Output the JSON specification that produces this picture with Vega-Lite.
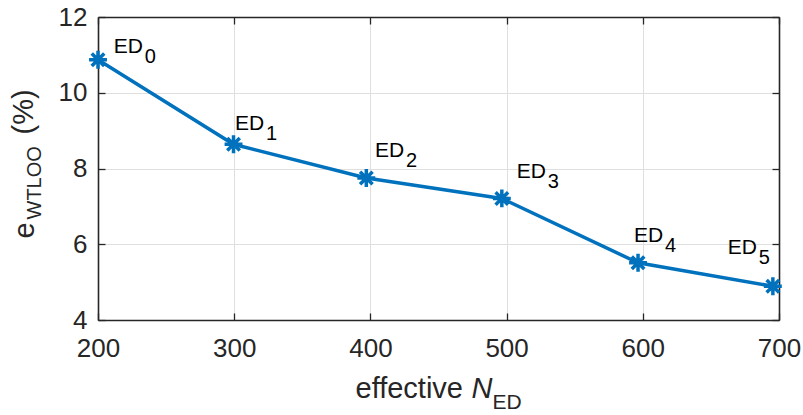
{
  "$schema": "https://vega.github.io/schema/vega-lite/v6.json",
  "width": 681,
  "height": 303,
  "autosize": {"type": "none"},
  "padding": {"left": 98, "top": 17, "right": 24, "bottom": 95},
  "background": "white",
  "config": {
    "view": {"stroke": null},
    "axis": {
      "labelFont": "Liberation Sans",
      "titleFont": "Liberation Sans",
      "labelColor": "#262626",
      "titleColor": "#262626",
      "domainColor": "#262626",
      "tickColor": "#262626",
      "domainWidth": 1.6,
      "tickWidth": 1.3,
      "titleFontWeight": "normal",
      "labelFontSize": 26,
      "titleFontSize": 29,
      "labelFlush": false,
      "labelOverlap": false
    }
  },
  "data": {
    "values": [
      {"n": 200, "e": 10.87, "lx": 211.5, "ly": 11.05, "name": "ED", "sub": "0"},
      {"n": 299.5, "e": 8.64, "lx": 300.6, "ly": 9.01, "name": "ED", "sub": "1"},
      {"n": 397, "e": 7.75, "lx": 403.4, "ly": 8.3, "name": "ED", "sub": "2"},
      {"n": 496.5, "e": 7.21, "lx": 507.4, "ly": 7.74, "name": "ED", "sub": "3"},
      {"n": 596.5, "e": 5.51, "lx": 593.5, "ly": 6.07, "name": "ED", "sub": "4"},
      {"n": 695.5, "e": 4.89, "lx": 662.3, "ly": 5.73, "name": "ED", "sub": "5"}
    ]
  },
  "resolve": {"axis": {"x": "independent", "y": "independent"}},
  "layer": [
    {
      "mark": {"type": "line", "color": "#0072BD", "strokeWidth": 3.5},
      "encoding": {
        "x": {
          "field": "n", "type": "quantitative",
          "scale": {"domain": [200, 700], "nice": false, "zero": false},
          "axis": {
            "orient": "bottom",
            "values": [200, 300, 400, 500, 600, 700],
            "grid": true, "gridColor": "#dfdfdf", "gridWidth": 1,
            "tickSize": -7, "labelPadding": 22,
            "title": "effective",
            "titleX": 257, "titleY": 77, "titleAlign": "left", "titleBaseline": "alphabetic", "titleAnchor": null
          }
        },
        "y": {
          "field": "e", "type": "quantitative",
          "scale": {"domain": [4, 12], "nice": false, "zero": false},
          "axis": {
            "orient": "left",
            "values": [4, 6, 8, 10, 12],
            "grid": true, "gridColor": "#dfdfdf", "gridWidth": 1,
            "tickSize": -7, "labelPadding": 18,
            "title": "e",
            "titleX": -65, "titleY": 221, "titleAlign": "left", "titleBaseline": "alphabetic", "titleAngle": 270, "titleAnchor": null
          }
        }
      }
    },
    {
      "mark": {
        "type": "point",
        "shape": "M-1,0L1,0M0,-1L0,1M-0.7,-0.7L0.7,0.7M-0.7,0.7L0.7,-0.7",
        "filled": false, "color": "#0072BD", "strokeWidth": 3.5, "size": 320, "opacity": 1
      },
      "encoding": {
        "x": {
          "field": "n", "type": "quantitative",
          "axis": {
            "orient": "bottom", "labels": false, "ticks": false, "domain": false, "grid": false,
            "title": "N", "titleFontStyle": "italic",
            "titleX": 373, "titleY": 77, "titleAlign": "left", "titleBaseline": "alphabetic", "titleAnchor": null
          }
        },
        "y": {
          "field": "e", "type": "quantitative",
          "axis": {
            "orient": "left", "labels": false, "ticks": false, "domain": false, "grid": false,
            "title": "WTLOO", "titleFontSize": 20,
            "titleX": -58, "titleY": 202, "titleAlign": "left", "titleBaseline": "alphabetic", "titleAngle": 270, "titleAnchor": null
          }
        }
      }
    },
    {
      "mark": {"type": "text", "font": "Liberation Sans", "fontSize": 21, "color": "#000000", "align": "left", "baseline": "alphabetic"},
      "encoding": {
        "x": {
          "field": "lx", "type": "quantitative",
          "axis": {
            "orient": "top", "labels": false, "grid": false, "tickSize": -7,
            "values": [200, 300, 400, 500, 600, 700], "title": null
          }
        },
        "y": {
          "field": "ly", "type": "quantitative",
          "axis": {
            "orient": "right", "labels": false, "grid": false, "tickSize": -7,
            "values": [4, 6, 8, 10, 12], "title": null
          }
        },
        "text": {"field": "name"}
      }
    },
    {
      "mark": {"type": "text", "font": "Liberation Sans", "fontSize": 20, "color": "#000000", "align": "left", "baseline": "alphabetic", "dx": 31, "dy": 10},
      "encoding": {
        "x": {
          "field": "lx", "type": "quantitative",
          "axis": {
            "orient": "bottom", "labels": false, "ticks": false, "domain": false, "grid": false,
            "title": "ED", "titleFontSize": 21,
            "titleX": 394, "titleY": 88, "titleAlign": "left", "titleBaseline": "alphabetic", "titleAnchor": null
          }
        },
        "y": {
          "field": "ly", "type": "quantitative",
          "axis": {
            "orient": "left", "labels": false, "ticks": false, "domain": false, "grid": false,
            "title": "(%)",
            "titleX": -66, "titleY": 117, "titleAlign": "left", "titleBaseline": "alphabetic", "titleAngle": 270, "titleAnchor": null
          }
        },
        "text": {"field": "sub"}
      }
    }
  ]
}
